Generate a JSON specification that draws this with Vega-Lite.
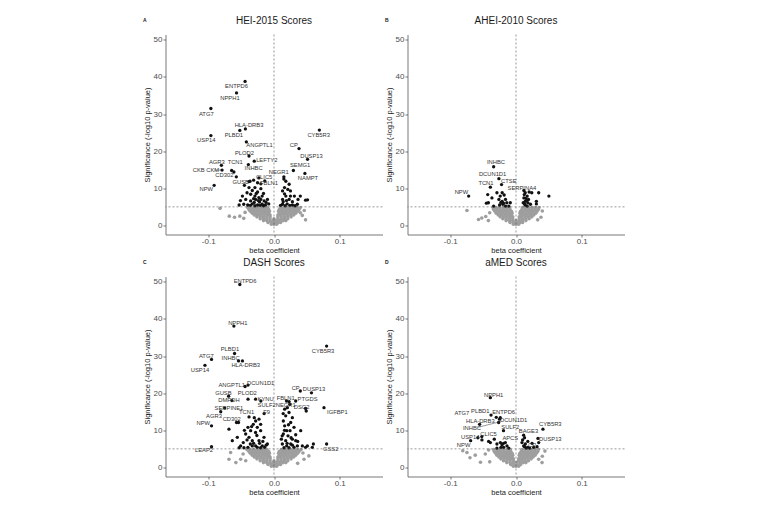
{
"$schema":"https://vega.github.io/schema/vega-lite/v6.json",
"padding":{"left":142.5,"top":15.5,"right":5,"bottom":5},
"background":"white",
"config":{
 "font":"Liberation Sans",
 "view":{"stroke":null},
 "axis":{"grid":false,"domainColor":"#555555","domainWidth":0.8,"tickColor":"#555555","tickWidth":0.8,"tickSize":2.5,"labelPadding":1,"labelColor":"#4d4d4d","labelFontSize":8,"labelOverlap":false,"titleFontSize":7.5,"titleFontWeight":"normal","titleColor":"#1a1a1a","titlePadding":2},
 "axisX":{"labelPadding":0,"titlePadding":1},
 "title":{"fontSize":10,"fontWeight":"normal","color":"#1a1a1a","offset":-8,"baseline":"alphabetic","frame":"group"}
},
"datasets":{
"d":[
{"p":"A","t":"L","x":-0.1992,"y":56.0,"s":"A"},
{"p":"B","t":"L","x":-0.1992,"y":56.0,"s":"B"},
{"p":"C","t":"L","x":-0.1992,"y":56.0,"s":"C"},
{"p":"D","t":"L","x":-0.1992,"y":56.0,"s":"D"},

{"p":"A","t":"g","x":-0.004,"y":0.3},{"p":"A","t":"g","x":0,"y":0.3},{"p":"A","t":"g","x":0.004,"y":0.3},
{"p":"A","t":"g","x":-0.009,"y":0.8},{"p":"A","t":"g","x":-0.004,"y":0.8},{"p":"A","t":"g","x":0.001,"y":0.8},{"p":"A","t":"g","x":0.006,"y":0.8},{"p":"A","t":"g","x":0.010,"y":0.8},
{"p":"A","t":"g","x":-0.016,"y":1.3},{"p":"A","t":"g","x":-0.011,"y":1.3},{"p":"A","t":"g","x":-0.006,"y":1.3},{"p":"A","t":"g","x":-0.001,"y":1.3},{"p":"A","t":"g","x":0.004,"y":1.3},{"p":"A","t":"g","x":0.009,"y":1.3},{"p":"A","t":"g","x":0.014,"y":1.3},{"p":"A","t":"g","x":0.018,"y":1.3},
{"p":"A","t":"g","x":-0.021,"y":1.8},{"p":"A","t":"g","x":-0.016,"y":1.8},{"p":"A","t":"g","x":-0.011,"y":1.8},{"p":"A","t":"g","x":-0.006,"y":1.8},{"p":"A","t":"g","x":0,"y":1.8},{"p":"A","t":"g","x":0.006,"y":1.8},{"p":"A","t":"g","x":0.011,"y":1.8},{"p":"A","t":"g","x":0.016,"y":1.8},{"p":"A","t":"g","x":0.021,"y":1.8},
{"p":"A","t":"g","x":-0.026,"y":2.3},{"p":"A","t":"g","x":-0.021,"y":2.3},{"p":"A","t":"g","x":-0.016,"y":2.3},{"p":"A","t":"g","x":-0.011,"y":2.3},{"p":"A","t":"g","x":-0.006,"y":2.3},{"p":"A","t":"g","x":0.006,"y":2.3},{"p":"A","t":"g","x":0.011,"y":2.3},{"p":"A","t":"g","x":0.016,"y":2.3},{"p":"A","t":"g","x":0.021,"y":2.3},{"p":"A","t":"g","x":0.026,"y":2.3},
{"p":"A","t":"g","x":-0.030,"y":2.8},{"p":"A","t":"g","x":-0.025,"y":2.8},{"p":"A","t":"g","x":-0.020,"y":2.8},{"p":"A","t":"g","x":-0.015,"y":2.8},{"p":"A","t":"g","x":-0.010,"y":2.8},{"p":"A","t":"g","x":-0.006,"y":2.8},{"p":"A","t":"g","x":0.006,"y":2.8},{"p":"A","t":"g","x":0.010,"y":2.8},{"p":"A","t":"g","x":0.015,"y":2.8},{"p":"A","t":"g","x":0.020,"y":2.8},{"p":"A","t":"g","x":0.025,"y":2.8},{"p":"A","t":"g","x":0.030,"y":2.8},
{"p":"A","t":"g","x":-0.033,"y":3.3},{"p":"A","t":"g","x":-0.028,"y":3.3},{"p":"A","t":"g","x":-0.023,"y":3.3},{"p":"A","t":"g","x":-0.018,"y":3.3},{"p":"A","t":"g","x":-0.013,"y":3.3},{"p":"A","t":"g","x":-0.008,"y":3.3},{"p":"A","t":"g","x":0.008,"y":3.3},{"p":"A","t":"g","x":0.013,"y":3.3},{"p":"A","t":"g","x":0.018,"y":3.3},{"p":"A","t":"g","x":0.023,"y":3.3},{"p":"A","t":"g","x":0.028,"y":3.3},{"p":"A","t":"g","x":0.033,"y":3.3},
{"p":"A","t":"g","x":-0.036,"y":3.8},{"p":"A","t":"g","x":-0.031,"y":3.8},{"p":"A","t":"g","x":-0.026,"y":3.8},{"p":"A","t":"g","x":-0.021,"y":3.8},{"p":"A","t":"g","x":-0.016,"y":3.8},{"p":"A","t":"g","x":-0.011,"y":3.8},{"p":"A","t":"g","x":-0.007,"y":3.8},{"p":"A","t":"g","x":0.007,"y":3.8},{"p":"A","t":"g","x":0.011,"y":3.8},{"p":"A","t":"g","x":0.016,"y":3.8},{"p":"A","t":"g","x":0.021,"y":3.8},{"p":"A","t":"g","x":0.026,"y":3.8},{"p":"A","t":"g","x":0.031,"y":3.8},{"p":"A","t":"g","x":0.036,"y":3.8},
{"p":"A","t":"g","x":-0.038,"y":4.3},{"p":"A","t":"g","x":-0.033,"y":4.3},{"p":"A","t":"g","x":-0.028,"y":4.3},{"p":"A","t":"g","x":-0.023,"y":4.3},{"p":"A","t":"g","x":-0.018,"y":4.3},{"p":"A","t":"g","x":-0.013,"y":4.3},{"p":"A","t":"g","x":-0.008,"y":4.3},{"p":"A","t":"g","x":0.008,"y":4.3},{"p":"A","t":"g","x":0.013,"y":4.3},{"p":"A","t":"g","x":0.018,"y":4.3},{"p":"A","t":"g","x":0.023,"y":4.3},{"p":"A","t":"g","x":0.028,"y":4.3},{"p":"A","t":"g","x":0.033,"y":4.3},{"p":"A","t":"g","x":0.038,"y":4.3},
{"p":"A","t":"g","x":-0.040,"y":4.8},{"p":"A","t":"g","x":-0.035,"y":4.8},{"p":"A","t":"g","x":-0.030,"y":4.8},{"p":"A","t":"g","x":-0.025,"y":4.8},{"p":"A","t":"g","x":-0.020,"y":4.8},{"p":"A","t":"g","x":-0.015,"y":4.8},{"p":"A","t":"g","x":-0.010,"y":4.8},{"p":"A","t":"g","x":0.010,"y":4.8},{"p":"A","t":"g","x":0.015,"y":4.8},{"p":"A","t":"g","x":0.020,"y":4.8},{"p":"A","t":"g","x":0.025,"y":4.8},{"p":"A","t":"g","x":0.030,"y":4.8},{"p":"A","t":"g","x":0.035,"y":4.8},{"p":"A","t":"g","x":0.040,"y":4.8},
{"p":"A","t":"g","x":-0.082,"y":4.6},{"p":"A","t":"g","x":-0.068,"y":2.5},{"p":"A","t":"g","x":-0.060,"y":2.2},{"p":"A","t":"g","x":-0.052,"y":2.5},{"p":"A","t":"g","x":-0.046,"y":1.9},{"p":"A","t":"g","x":-0.044,"y":3.5},{"p":"A","t":"g","x":0.043,"y":2.7},{"p":"A","t":"g","x":0.040,"y":3.4},{"p":"A","t":"g","x":0.048,"y":1.5},{"p":"A","t":"g","x":0.046,"y":4.0},

{"p":"B","t":"g","x":-0.004,"y":0.3},{"p":"B","t":"g","x":0,"y":0.3},{"p":"B","t":"g","x":0.004,"y":0.3},
{"p":"B","t":"g","x":-0.009,"y":0.8},{"p":"B","t":"g","x":-0.004,"y":0.8},{"p":"B","t":"g","x":0.001,"y":0.8},{"p":"B","t":"g","x":0.006,"y":0.8},{"p":"B","t":"g","x":0.010,"y":0.8},
{"p":"B","t":"g","x":-0.015,"y":1.3},{"p":"B","t":"g","x":-0.010,"y":1.3},{"p":"B","t":"g","x":-0.005,"y":1.3},{"p":"B","t":"g","x":0,"y":1.3},{"p":"B","t":"g","x":0.005,"y":1.3},{"p":"B","t":"g","x":0.010,"y":1.3},{"p":"B","t":"g","x":0.015,"y":1.3},
{"p":"B","t":"g","x":-0.020,"y":1.8},{"p":"B","t":"g","x":-0.015,"y":1.8},{"p":"B","t":"g","x":-0.010,"y":1.8},{"p":"B","t":"g","x":-0.005,"y":1.8},{"p":"B","t":"g","x":0.005,"y":1.8},{"p":"B","t":"g","x":0.010,"y":1.8},{"p":"B","t":"g","x":0.015,"y":1.8},{"p":"B","t":"g","x":0.020,"y":1.8},
{"p":"B","t":"g","x":-0.024,"y":2.3},{"p":"B","t":"g","x":-0.019,"y":2.3},{"p":"B","t":"g","x":-0.014,"y":2.3},{"p":"B","t":"g","x":-0.009,"y":2.3},{"p":"B","t":"g","x":-0.005,"y":2.3},{"p":"B","t":"g","x":0.005,"y":2.3},{"p":"B","t":"g","x":0.009,"y":2.3},{"p":"B","t":"g","x":0.014,"y":2.3},{"p":"B","t":"g","x":0.019,"y":2.3},{"p":"B","t":"g","x":0.024,"y":2.3},
{"p":"B","t":"g","x":-0.027,"y":2.8},{"p":"B","t":"g","x":-0.022,"y":2.8},{"p":"B","t":"g","x":-0.017,"y":2.8},{"p":"B","t":"g","x":-0.012,"y":2.8},{"p":"B","t":"g","x":-0.007,"y":2.8},{"p":"B","t":"g","x":0.007,"y":2.8},{"p":"B","t":"g","x":0.012,"y":2.8},{"p":"B","t":"g","x":0.017,"y":2.8},{"p":"B","t":"g","x":0.022,"y":2.8},{"p":"B","t":"g","x":0.027,"y":2.8},
{"p":"B","t":"g","x":-0.030,"y":3.3},{"p":"B","t":"g","x":-0.025,"y":3.3},{"p":"B","t":"g","x":-0.020,"y":3.3},{"p":"B","t":"g","x":-0.015,"y":3.3},{"p":"B","t":"g","x":-0.010,"y":3.3},{"p":"B","t":"g","x":-0.006,"y":3.3},{"p":"B","t":"g","x":0.006,"y":3.3},{"p":"B","t":"g","x":0.010,"y":3.3},{"p":"B","t":"g","x":0.015,"y":3.3},{"p":"B","t":"g","x":0.020,"y":3.3},{"p":"B","t":"g","x":0.025,"y":3.3},{"p":"B","t":"g","x":0.030,"y":3.3},
{"p":"B","t":"g","x":-0.032,"y":3.8},{"p":"B","t":"g","x":-0.027,"y":3.8},{"p":"B","t":"g","x":-0.022,"y":3.8},{"p":"B","t":"g","x":-0.017,"y":3.8},{"p":"B","t":"g","x":-0.012,"y":3.8},{"p":"B","t":"g","x":-0.007,"y":3.8},{"p":"B","t":"g","x":0.007,"y":3.8},{"p":"B","t":"g","x":0.012,"y":3.8},{"p":"B","t":"g","x":0.017,"y":3.8},{"p":"B","t":"g","x":0.022,"y":3.8},{"p":"B","t":"g","x":0.027,"y":3.8},{"p":"B","t":"g","x":0.032,"y":3.8},
{"p":"B","t":"g","x":-0.034,"y":4.3},{"p":"B","t":"g","x":-0.029,"y":4.3},{"p":"B","t":"g","x":-0.024,"y":4.3},{"p":"B","t":"g","x":-0.019,"y":4.3},{"p":"B","t":"g","x":-0.014,"y":4.3},{"p":"B","t":"g","x":-0.009,"y":4.3},{"p":"B","t":"g","x":0.009,"y":4.3},{"p":"B","t":"g","x":0.014,"y":4.3},{"p":"B","t":"g","x":0.019,"y":4.3},{"p":"B","t":"g","x":0.024,"y":4.3},{"p":"B","t":"g","x":0.029,"y":4.3},{"p":"B","t":"g","x":0.034,"y":4.3},
{"p":"B","t":"g","x":-0.035,"y":4.8},{"p":"B","t":"g","x":-0.030,"y":4.8},{"p":"B","t":"g","x":-0.025,"y":4.8},{"p":"B","t":"g","x":-0.020,"y":4.8},{"p":"B","t":"g","x":-0.015,"y":4.8},{"p":"B","t":"g","x":-0.010,"y":4.8},{"p":"B","t":"g","x":0.010,"y":4.8},{"p":"B","t":"g","x":0.015,"y":4.8},{"p":"B","t":"g","x":0.020,"y":4.8},{"p":"B","t":"g","x":0.025,"y":4.8},{"p":"B","t":"g","x":0.030,"y":4.8},{"p":"B","t":"g","x":0.035,"y":4.8},
{"p":"B","t":"g","x":-0.0746,"y":4.0},{"p":"B","t":"g","x":-0.057,"y":1.6},{"p":"B","t":"g","x":-0.052,"y":2.0},{"p":"B","t":"g","x":-0.046,"y":2.4},{"p":"B","t":"g","x":-0.042,"y":1.3},{"p":"B","t":"g","x":-0.040,"y":3.4},{"p":"B","t":"g","x":0.038,"y":2.2},{"p":"B","t":"g","x":0.040,"y":3.9},{"p":"B","t":"g","x":0.033,"y":1.5},

{"p":"C","t":"g","x":-0.004,"y":0.3},{"p":"C","t":"g","x":0,"y":0.3},{"p":"C","t":"g","x":0.004,"y":0.3},
{"p":"C","t":"g","x":-0.009,"y":0.8},{"p":"C","t":"g","x":-0.004,"y":0.8},{"p":"C","t":"g","x":0.001,"y":0.8},{"p":"C","t":"g","x":0.006,"y":0.8},{"p":"C","t":"g","x":0.010,"y":0.8},
{"p":"C","t":"g","x":-0.016,"y":1.3},{"p":"C","t":"g","x":-0.011,"y":1.3},{"p":"C","t":"g","x":-0.006,"y":1.3},{"p":"C","t":"g","x":-0.001,"y":1.3},{"p":"C","t":"g","x":0.004,"y":1.3},{"p":"C","t":"g","x":0.009,"y":1.3},{"p":"C","t":"g","x":0.014,"y":1.3},{"p":"C","t":"g","x":0.018,"y":1.3},
{"p":"C","t":"g","x":-0.021,"y":1.8},{"p":"C","t":"g","x":-0.016,"y":1.8},{"p":"C","t":"g","x":-0.011,"y":1.8},{"p":"C","t":"g","x":-0.006,"y":1.8},{"p":"C","t":"g","x":0,"y":1.8},{"p":"C","t":"g","x":0.006,"y":1.8},{"p":"C","t":"g","x":0.011,"y":1.8},{"p":"C","t":"g","x":0.016,"y":1.8},{"p":"C","t":"g","x":0.021,"y":1.8},
{"p":"C","t":"g","x":-0.026,"y":2.3},{"p":"C","t":"g","x":-0.021,"y":2.3},{"p":"C","t":"g","x":-0.016,"y":2.3},{"p":"C","t":"g","x":-0.011,"y":2.3},{"p":"C","t":"g","x":-0.006,"y":2.3},{"p":"C","t":"g","x":0.006,"y":2.3},{"p":"C","t":"g","x":0.011,"y":2.3},{"p":"C","t":"g","x":0.016,"y":2.3},{"p":"C","t":"g","x":0.021,"y":2.3},{"p":"C","t":"g","x":0.026,"y":2.3},
{"p":"C","t":"g","x":-0.030,"y":2.8},{"p":"C","t":"g","x":-0.025,"y":2.8},{"p":"C","t":"g","x":-0.020,"y":2.8},{"p":"C","t":"g","x":-0.015,"y":2.8},{"p":"C","t":"g","x":-0.010,"y":2.8},{"p":"C","t":"g","x":-0.006,"y":2.8},{"p":"C","t":"g","x":0.006,"y":2.8},{"p":"C","t":"g","x":0.010,"y":2.8},{"p":"C","t":"g","x":0.015,"y":2.8},{"p":"C","t":"g","x":0.020,"y":2.8},{"p":"C","t":"g","x":0.025,"y":2.8},{"p":"C","t":"g","x":0.030,"y":2.8},
{"p":"C","t":"g","x":-0.033,"y":3.3},{"p":"C","t":"g","x":-0.028,"y":3.3},{"p":"C","t":"g","x":-0.023,"y":3.3},{"p":"C","t":"g","x":-0.018,"y":3.3},{"p":"C","t":"g","x":-0.013,"y":3.3},{"p":"C","t":"g","x":-0.008,"y":3.3},{"p":"C","t":"g","x":0.008,"y":3.3},{"p":"C","t":"g","x":0.013,"y":3.3},{"p":"C","t":"g","x":0.018,"y":3.3},{"p":"C","t":"g","x":0.023,"y":3.3},{"p":"C","t":"g","x":0.028,"y":3.3},{"p":"C","t":"g","x":0.033,"y":3.3},
{"p":"C","t":"g","x":-0.036,"y":3.8},{"p":"C","t":"g","x":-0.031,"y":3.8},{"p":"C","t":"g","x":-0.026,"y":3.8},{"p":"C","t":"g","x":-0.021,"y":3.8},{"p":"C","t":"g","x":-0.016,"y":3.8},{"p":"C","t":"g","x":-0.011,"y":3.8},{"p":"C","t":"g","x":-0.007,"y":3.8},{"p":"C","t":"g","x":0.007,"y":3.8},{"p":"C","t":"g","x":0.011,"y":3.8},{"p":"C","t":"g","x":0.016,"y":3.8},{"p":"C","t":"g","x":0.021,"y":3.8},{"p":"C","t":"g","x":0.026,"y":3.8},{"p":"C","t":"g","x":0.031,"y":3.8},{"p":"C","t":"g","x":0.036,"y":3.8},
{"p":"C","t":"g","x":-0.038,"y":4.3},{"p":"C","t":"g","x":-0.033,"y":4.3},{"p":"C","t":"g","x":-0.028,"y":4.3},{"p":"C","t":"g","x":-0.023,"y":4.3},{"p":"C","t":"g","x":-0.018,"y":4.3},{"p":"C","t":"g","x":-0.013,"y":4.3},{"p":"C","t":"g","x":-0.008,"y":4.3},{"p":"C","t":"g","x":0.008,"y":4.3},{"p":"C","t":"g","x":0.013,"y":4.3},{"p":"C","t":"g","x":0.018,"y":4.3},{"p":"C","t":"g","x":0.023,"y":4.3},{"p":"C","t":"g","x":0.028,"y":4.3},{"p":"C","t":"g","x":0.033,"y":4.3},{"p":"C","t":"g","x":0.038,"y":4.3},
{"p":"C","t":"g","x":-0.041,"y":4.8},{"p":"C","t":"g","x":-0.036,"y":4.8},{"p":"C","t":"g","x":-0.031,"y":4.8},{"p":"C","t":"g","x":-0.026,"y":4.8},{"p":"C","t":"g","x":-0.021,"y":4.8},{"p":"C","t":"g","x":-0.016,"y":4.8},{"p":"C","t":"g","x":-0.011,"y":4.8},{"p":"C","t":"g","x":0.011,"y":4.8},{"p":"C","t":"g","x":0.016,"y":4.8},{"p":"C","t":"g","x":0.021,"y":4.8},{"p":"C","t":"g","x":0.026,"y":4.8},{"p":"C","t":"g","x":0.031,"y":4.8},{"p":"C","t":"g","x":0.036,"y":4.8},{"p":"C","t":"g","x":0.041,"y":4.8},
{"p":"C","t":"g","x":-0.066,"y":4.0},{"p":"C","t":"g","x":-0.0685,"y":2.2},{"p":"C","t":"g","x":-0.058,"y":1.3},{"p":"C","t":"g","x":-0.0507,"y":2.2},{"p":"C","t":"g","x":-0.043,"y":1.8},{"p":"C","t":"g","x":0.0457,"y":2.2},{"p":"C","t":"g","x":0.036,"y":1.1},{"p":"C","t":"g","x":0.053,"y":3.1},{"p":"C","t":"g","x":0.044,"y":3.9},{"p":"C","t":"g","x":-0.047,"y":3.6},

{"p":"D","t":"g","x":-0.004,"y":0.3},{"p":"D","t":"g","x":0,"y":0.3},{"p":"D","t":"g","x":0.004,"y":0.3},
{"p":"D","t":"g","x":-0.008,"y":0.8},{"p":"D","t":"g","x":-0.003,"y":0.8},{"p":"D","t":"g","x":0.002,"y":0.8},{"p":"D","t":"g","x":0.007,"y":0.8},
{"p":"D","t":"g","x":-0.014,"y":1.3},{"p":"D","t":"g","x":-0.009,"y":1.3},{"p":"D","t":"g","x":-0.004,"y":1.3},{"p":"D","t":"g","x":0.001,"y":1.3},{"p":"D","t":"g","x":0.006,"y":1.3},{"p":"D","t":"g","x":0.011,"y":1.3},{"p":"D","t":"g","x":0.015,"y":1.3},
{"p":"D","t":"g","x":-0.019,"y":1.8},{"p":"D","t":"g","x":-0.014,"y":1.8},{"p":"D","t":"g","x":-0.009,"y":1.8},{"p":"D","t":"g","x":-0.004,"y":1.8},{"p":"D","t":"g","x":0.004,"y":1.8},{"p":"D","t":"g","x":0.009,"y":1.8},{"p":"D","t":"g","x":0.014,"y":1.8},{"p":"D","t":"g","x":0.019,"y":1.8},
{"p":"D","t":"g","x":-0.023,"y":2.3},{"p":"D","t":"g","x":-0.018,"y":2.3},{"p":"D","t":"g","x":-0.013,"y":2.3},{"p":"D","t":"g","x":-0.008,"y":2.3},{"p":"D","t":"g","x":-0.004,"y":2.3},{"p":"D","t":"g","x":0.004,"y":2.3},{"p":"D","t":"g","x":0.008,"y":2.3},{"p":"D","t":"g","x":0.013,"y":2.3},{"p":"D","t":"g","x":0.018,"y":2.3},{"p":"D","t":"g","x":0.023,"y":2.3},
{"p":"D","t":"g","x":-0.026,"y":2.8},{"p":"D","t":"g","x":-0.021,"y":2.8},{"p":"D","t":"g","x":-0.016,"y":2.8},{"p":"D","t":"g","x":-0.011,"y":2.8},{"p":"D","t":"g","x":-0.006,"y":2.8},{"p":"D","t":"g","x":0.006,"y":2.8},{"p":"D","t":"g","x":0.011,"y":2.8},{"p":"D","t":"g","x":0.016,"y":2.8},{"p":"D","t":"g","x":0.021,"y":2.8},{"p":"D","t":"g","x":0.026,"y":2.8},
{"p":"D","t":"g","x":-0.029,"y":3.3},{"p":"D","t":"g","x":-0.024,"y":3.3},{"p":"D","t":"g","x":-0.019,"y":3.3},{"p":"D","t":"g","x":-0.014,"y":3.3},{"p":"D","t":"g","x":-0.009,"y":3.3},{"p":"D","t":"g","x":-0.005,"y":3.3},{"p":"D","t":"g","x":0.005,"y":3.3},{"p":"D","t":"g","x":0.009,"y":3.3},{"p":"D","t":"g","x":0.014,"y":3.3},{"p":"D","t":"g","x":0.019,"y":3.3},{"p":"D","t":"g","x":0.024,"y":3.3},{"p":"D","t":"g","x":0.029,"y":3.3},
{"p":"D","t":"g","x":-0.031,"y":3.8},{"p":"D","t":"g","x":-0.026,"y":3.8},{"p":"D","t":"g","x":-0.021,"y":3.8},{"p":"D","t":"g","x":-0.016,"y":3.8},{"p":"D","t":"g","x":-0.011,"y":3.8},{"p":"D","t":"g","x":-0.006,"y":3.8},{"p":"D","t":"g","x":0.006,"y":3.8},{"p":"D","t":"g","x":0.011,"y":3.8},{"p":"D","t":"g","x":0.016,"y":3.8},{"p":"D","t":"g","x":0.021,"y":3.8},{"p":"D","t":"g","x":0.026,"y":3.8},{"p":"D","t":"g","x":0.031,"y":3.8},
{"p":"D","t":"g","x":-0.033,"y":4.3},{"p":"D","t":"g","x":-0.028,"y":4.3},{"p":"D","t":"g","x":-0.023,"y":4.3},{"p":"D","t":"g","x":-0.018,"y":4.3},{"p":"D","t":"g","x":-0.013,"y":4.3},{"p":"D","t":"g","x":-0.008,"y":4.3},{"p":"D","t":"g","x":0.008,"y":4.3},{"p":"D","t":"g","x":0.013,"y":4.3},{"p":"D","t":"g","x":0.018,"y":4.3},{"p":"D","t":"g","x":0.023,"y":4.3},{"p":"D","t":"g","x":0.028,"y":4.3},{"p":"D","t":"g","x":0.033,"y":4.3},
{"p":"D","t":"g","x":-0.034,"y":4.8},{"p":"D","t":"g","x":-0.029,"y":4.8},{"p":"D","t":"g","x":-0.024,"y":4.8},{"p":"D","t":"g","x":-0.019,"y":4.8},{"p":"D","t":"g","x":-0.014,"y":4.8},{"p":"D","t":"g","x":-0.009,"y":4.8},{"p":"D","t":"g","x":0.009,"y":4.8},{"p":"D","t":"g","x":0.014,"y":4.8},{"p":"D","t":"g","x":0.019,"y":4.8},{"p":"D","t":"g","x":0.024,"y":4.8},{"p":"D","t":"g","x":0.029,"y":4.8},{"p":"D","t":"g","x":0.034,"y":4.8},
{"p":"D","t":"g","x":-0.081,"y":4.5},{"p":"D","t":"g","x":-0.0746,"y":4.0},{"p":"D","t":"g","x":-0.062,"y":3.3},{"p":"D","t":"g","x":-0.054,"y":1.4},{"p":"D","t":"g","x":-0.0467,"y":3.6},{"p":"D","t":"g","x":-0.0416,"y":4.7},{"p":"D","t":"g","x":-0.040,"y":1.5},{"p":"D","t":"g","x":-0.070,"y":2.6},{"p":"D","t":"g","x":0.0345,"y":2.2},{"p":"D","t":"g","x":0.0396,"y":1.3},{"p":"D","t":"g","x":0.040,"y":3.0},{"p":"D","t":"g","x":0.044,"y":4.4},

{"p":"A","t":"b","x":-0.044,"y":38.8},{"p":"A","t":"b","x":-0.057,"y":35.7},{"p":"A","t":"b","x":-0.096,"y":31.5},{"p":"A","t":"b","x":-0.0435,"y":26.0},{"p":"A","t":"b","x":-0.052,"y":25.6},{"p":"A","t":"b","x":-0.096,"y":24.2},{"p":"A","t":"b","x":-0.042,"y":22.5},{"p":"A","t":"b","x":-0.038,"y":18.7},{"p":"A","t":"b","x":-0.030,"y":17.3},{"p":"A","t":"b","x":-0.039,"y":16.4},{"p":"A","t":"b","x":-0.0644,"y":14.8},{"p":"A","t":"b","x":-0.061,"y":14.4},{"p":"A","t":"b","x":-0.080,"y":16.2},{"p":"A","t":"b","x":-0.079,"y":14.9},{"p":"A","t":"b","x":-0.0573,"y":13.1},{"p":"A","t":"b","x":-0.038,"y":11.8},{"p":"A","t":"b","x":-0.023,"y":12.8},{"p":"A","t":"b","x":-0.014,"y":12.0},{"p":"A","t":"b","x":0.015,"y":13.1},{"p":"A","t":"b","x":-0.091,"y":10.8},{"p":"A","t":"b","x":0.069,"y":25.7},{"p":"A","t":"b","x":0.038,"y":20.7},{"p":"A","t":"b","x":0.051,"y":17.8},{"p":"A","t":"b","x":0.0295,"y":14.8},{"p":"A","t":"b","x":0.047,"y":14.0},
{"p":"A","t":"b","x":-0.0365,"y":11.9},{"p":"A","t":"b","x":-0.031,"y":12.2},{"p":"A","t":"b","x":-0.025,"y":11.5},{"p":"A","t":"b","x":-0.020,"y":11.2},{"p":"A","t":"b","x":-0.038,"y":10.2},{"p":"A","t":"b","x":-0.029,"y":10.2},{"p":"A","t":"b","x":-0.020,"y":9.9},{"p":"A","t":"b","x":-0.048,"y":7.9},{"p":"A","t":"b","x":-0.041,"y":8.8},{"p":"A","t":"b","x":-0.0355,"y":8.4},{"p":"A","t":"b","x":-0.029,"y":7.9},{"p":"A","t":"b","x":-0.023,"y":7.5},{"p":"A","t":"b","x":-0.018,"y":7.9},{"p":"A","t":"b","x":-0.051,"y":6.7},{"p":"A","t":"b","x":-0.043,"y":7.0},{"p":"A","t":"b","x":-0.0355,"y":6.6},{"p":"A","t":"b","x":-0.028,"y":7.0},{"p":"A","t":"b","x":-0.020,"y":7.0},{"p":"A","t":"b","x":-0.015,"y":6.6},{"p":"A","t":"b","x":-0.010,"y":7.0},{"p":"A","t":"b","x":-0.053,"y":5.5},{"p":"A","t":"b","x":-0.046,"y":5.7},{"p":"A","t":"b","x":-0.040,"y":5.5},{"p":"A","t":"b","x":-0.033,"y":5.8},{"p":"A","t":"b","x":-0.025,"y":5.5},{"p":"A","t":"b","x":-0.018,"y":5.7},{"p":"A","t":"b","x":-0.013,"y":5.5},{"p":"A","t":"b","x":-0.008,"y":5.8},{"p":"A","t":"b","x":-0.030,"y":6.2},{"p":"A","t":"b","x":-0.022,"y":6.3},{"p":"A","t":"b","x":-0.027,"y":8.6},{"p":"A","t":"b","x":-0.012,"y":6.2},{"p":"A","t":"b","x":-0.033,"y":9.4},{"p":"A","t":"b","x":-0.025,"y":9.0},{"p":"A","t":"b","x":-0.016,"y":8.6},{"p":"A","t":"b","x":-0.045,"y":10.8},{"p":"A","t":"b","x":-0.021,"y":5.4},{"p":"A","t":"b","x":-0.029,"y":5.3},{"p":"A","t":"b","x":-0.036,"y":5.4},{"p":"A","t":"b","x":-0.016,"y":5.3},{"p":"A","t":"b","x":-0.024,"y":6.7},{"p":"A","t":"b","x":-0.031,"y":7.2},
{"p":"A","t":"b","x":0.018,"y":11.9},{"p":"A","t":"b","x":0.023,"y":11.1},{"p":"A","t":"b","x":0.016,"y":10.2},{"p":"A","t":"b","x":0.013,"y":9.3},{"p":"A","t":"b","x":0.025,"y":9.3},{"p":"A","t":"b","x":0.031,"y":7.9},{"p":"A","t":"b","x":0.018,"y":7.9},{"p":"A","t":"b","x":0.013,"y":7.0},{"p":"A","t":"b","x":0.023,"y":7.0},{"p":"A","t":"b","x":0.028,"y":6.4},{"p":"A","t":"b","x":0.0365,"y":7.0},{"p":"A","t":"b","x":0.013,"y":5.7},{"p":"A","t":"b","x":0.020,"y":5.8},{"p":"A","t":"b","x":0.028,"y":5.5},{"p":"A","t":"b","x":0.0355,"y":5.7},{"p":"A","t":"b","x":0.048,"y":6.8},{"p":"A","t":"b","x":0.051,"y":6.9},{"p":"A","t":"b","x":0.040,"y":7.9},{"p":"A","t":"b","x":0.016,"y":8.5},{"p":"A","t":"b","x":0.021,"y":9.7},{"p":"A","t":"b","x":0.014,"y":6.4},{"p":"A","t":"b","x":0.025,"y":7.9},{"p":"A","t":"b","x":0.019,"y":6.7},{"p":"A","t":"b","x":0.010,"y":5.4},{"p":"A","t":"b","x":0.017,"y":5.3},{"p":"A","t":"b","x":0.024,"y":5.4},{"p":"A","t":"b","x":0.032,"y":5.3},{"p":"A","t":"b","x":0.015,"y":12.5},

{"p":"B","t":"b","x":-0.034,"y":15.8},{"p":"B","t":"b","x":-0.026,"y":12.6},{"p":"B","t":"b","x":-0.039,"y":10.3},{"p":"B","t":"b","x":-0.022,"y":11.0},{"p":"B","t":"b","x":0.012,"y":9.4},{"p":"B","t":"b","x":-0.072,"y":7.9},
{"p":"B","t":"b","x":-0.043,"y":8.3},{"p":"B","t":"b","x":-0.042,"y":6.1},{"p":"B","t":"b","x":-0.0366,"y":7.4},{"p":"B","t":"b","x":-0.029,"y":8.8},{"p":"B","t":"b","x":-0.024,"y":7.9},{"p":"B","t":"b","x":-0.021,"y":8.8},{"p":"B","t":"b","x":-0.018,"y":8.2},{"p":"B","t":"b","x":-0.026,"y":7.0},{"p":"B","t":"b","x":-0.021,"y":6.5},{"p":"B","t":"b","x":-0.016,"y":7.0},{"p":"B","t":"b","x":-0.014,"y":6.1},{"p":"B","t":"b","x":-0.020,"y":5.7},{"p":"B","t":"b","x":-0.0087,"y":6.1},{"p":"B","t":"b","x":-0.025,"y":5.5},{"p":"B","t":"b","x":-0.016,"y":5.2},{"p":"B","t":"b","x":-0.034,"y":5.2},{"p":"B","t":"b","x":-0.011,"y":5.2},{"p":"B","t":"b","x":-0.045,"y":6.0},{"p":"B","t":"b","x":-0.019,"y":6.0},{"p":"B","t":"b","x":-0.023,"y":6.2},
{"p":"B","t":"b","x":0.014,"y":8.8},{"p":"B","t":"b","x":0.017,"y":7.9},{"p":"B","t":"b","x":0.012,"y":7.4},{"p":"B","t":"b","x":0.019,"y":7.0},{"p":"B","t":"b","x":0.014,"y":6.5},{"p":"B","t":"b","x":0.018,"y":6.1},{"p":"B","t":"b","x":0.014,"y":5.5},{"p":"B","t":"b","x":0.022,"y":5.7},{"p":"B","t":"b","x":0.024,"y":8.8},{"p":"B","t":"b","x":0.0345,"y":8.8},{"p":"B","t":"b","x":0.031,"y":6.5},{"p":"B","t":"b","x":0.031,"y":5.8},{"p":"B","t":"b","x":0.050,"y":7.9},{"p":"B","t":"b","x":0.017,"y":5.2},{"p":"B","t":"b","x":0.0126,"y":8.3},{"p":"B","t":"b","x":0.011,"y":6.1},{"p":"B","t":"b","x":0.016,"y":6.7},{"p":"B","t":"b","x":0.013,"y":5.8},{"p":"B","t":"b","x":0.015,"y":7.3},{"p":"B","t":"b","x":0.020,"y":9.0},

{"p":"C","t":"b","x":-0.052,"y":49.3},{"p":"C","t":"b","x":-0.061,"y":38.1},{"p":"C","t":"b","x":-0.060,"y":30.7},{"p":"C","t":"b","x":-0.054,"y":28.7},{"p":"C","t":"b","x":-0.048,"y":28.7},{"p":"C","t":"b","x":-0.095,"y":29.1},{"p":"C","t":"b","x":-0.105,"y":27.5},{"p":"C","t":"b","x":0.080,"y":32.7},{"p":"C","t":"b","x":-0.044,"y":21.8},{"p":"C","t":"b","x":-0.0395,"y":22.2},{"p":"C","t":"b","x":-0.069,"y":19.2},{"p":"C","t":"b","x":-0.0395,"y":18.4},{"p":"C","t":"b","x":-0.064,"y":18.0},{"p":"C","t":"b","x":-0.075,"y":16.0},{"p":"C","t":"b","x":-0.081,"y":15.0},{"p":"C","t":"b","x":-0.095,"y":11.2},{"p":"C","t":"b","x":-0.057,"y":12.1},{"p":"C","t":"b","x":-0.054,"y":12.1},{"p":"C","t":"b","x":-0.038,"y":13.6},{"p":"C","t":"b","x":-0.028,"y":18.4},{"p":"C","t":"b","x":-0.020,"y":17.9},{"p":"C","t":"b","x":-0.015,"y":14.5},{"p":"C","t":"b","x":0.023,"y":17.7},{"p":"C","t":"b","x":0.019,"y":17.9},{"p":"C","t":"b","x":0.040,"y":20.6},{"p":"C","t":"b","x":0.057,"y":20.1},{"p":"C","t":"b","x":0.033,"y":17.9},{"p":"C","t":"b","x":0.048,"y":15.9},{"p":"C","t":"b","x":0.049,"y":15.2},{"p":"C","t":"b","x":0.076,"y":16.1},{"p":"C","t":"b","x":-0.095,"y":5.6},{"p":"C","t":"b","x":0.080,"y":6.3},
{"p":"C","t":"b","x":-0.0685,"y":10.3},{"p":"C","t":"b","x":-0.0634,"y":7.2},{"p":"C","t":"b","x":-0.0558,"y":8.1},{"p":"C","t":"b","x":-0.0507,"y":5.8},{"p":"C","t":"b","x":-0.0467,"y":6.7},{"p":"C","t":"b","x":-0.0431,"y":9.0},{"p":"C","t":"b","x":-0.0396,"y":10.8},{"p":"C","t":"b","x":-0.0355,"y":9.9},{"p":"C","t":"b","x":-0.0315,"y":11.6},{"p":"C","t":"b","x":-0.0279,"y":12.5},{"p":"C","t":"b","x":-0.0254,"y":10.8},{"p":"C","t":"b","x":-0.0203,"y":9.9},{"p":"C","t":"b","x":-0.038,"y":8.1},{"p":"C","t":"b","x":-0.033,"y":7.2},{"p":"C","t":"b","x":-0.0279,"y":5.8},{"p":"C","t":"b","x":-0.0228,"y":7.2},{"p":"C","t":"b","x":-0.0178,"y":5.8},{"p":"C","t":"b","x":-0.0152,"y":8.1},{"p":"C","t":"b","x":-0.0457,"y":5.3},{"p":"C","t":"b","x":-0.0396,"y":5.4},{"p":"C","t":"b","x":-0.033,"y":5.8},{"p":"C","t":"b","x":-0.0254,"y":5.4},{"p":"C","t":"b","x":-0.0203,"y":5.3},{"p":"C","t":"b","x":-0.0142,"y":5.4},{"p":"C","t":"b","x":-0.0101,"y":6.3},{"p":"C","t":"b","x":-0.053,"y":5.3},{"p":"C","t":"b","x":-0.030,"y":13.4},{"p":"C","t":"b","x":-0.0228,"y":13.0},{"p":"C","t":"b","x":-0.0203,"y":11.6},{"p":"C","t":"b","x":-0.026,"y":8.6},{"p":"C","t":"b","x":-0.031,"y":6.5},{"p":"C","t":"b","x":-0.036,"y":6.3},{"p":"C","t":"b","x":-0.041,"y":7.4},{"p":"C","t":"b","x":-0.022,"y":6.5},{"p":"C","t":"b","x":-0.017,"y":7.0},{"p":"C","t":"b","x":-0.012,"y":6.0},{"p":"C","t":"b","x":-0.028,"y":9.4},{"p":"C","t":"b","x":-0.034,"y":11.0},{"p":"C","t":"b","x":-0.045,"y":10.0},
{"p":"C","t":"b","x":0.0162,"y":15.7},{"p":"C","t":"b","x":0.0203,"y":16.1},{"p":"C","t":"b","x":0.0228,"y":14.8},{"p":"C","t":"b","x":0.0178,"y":13.9},{"p":"C","t":"b","x":0.0142,"y":12.5},{"p":"C","t":"b","x":0.0162,"y":11.2},{"p":"C","t":"b","x":0.0193,"y":9.9},{"p":"C","t":"b","x":0.0142,"y":9.0},{"p":"C","t":"b","x":0.0213,"y":8.5},{"p":"C","t":"b","x":0.0178,"y":7.2},{"p":"C","t":"b","x":0.0127,"y":6.3},{"p":"C","t":"b","x":0.0193,"y":5.8},{"p":"C","t":"b","x":0.0254,"y":6.3},{"p":"C","t":"b","x":0.0304,"y":5.4},{"p":"C","t":"b","x":0.0228,"y":5.3},{"p":"C","t":"b","x":0.0152,"y":5.3},{"p":"C","t":"b","x":0.0279,"y":7.6},{"p":"C","t":"b","x":0.033,"y":7.2},{"p":"C","t":"b","x":0.0355,"y":5.8},{"p":"C","t":"b","x":0.0431,"y":5.8},{"p":"C","t":"b","x":0.048,"y":5.4},{"p":"C","t":"b","x":0.0507,"y":5.8},{"p":"C","t":"b","x":0.0583,"y":5.4},{"p":"C","t":"b","x":0.0599,"y":6.3},{"p":"C","t":"b","x":0.0406,"y":9.9},{"p":"C","t":"b","x":0.0304,"y":10.8},{"p":"C","t":"b","x":0.0254,"y":12.1},{"p":"C","t":"b","x":0.0279,"y":13.4},{"p":"C","t":"b","x":0.0244,"y":9.9},{"p":"C","t":"b","x":0.0112,"y":7.6},{"p":"C","t":"b","x":0.033,"y":8.8},{"p":"C","t":"b","x":0.0125,"y":8.5},{"p":"C","t":"b","x":0.016,"y":10.0},{"p":"C","t":"b","x":0.022,"y":11.5},{"p":"C","t":"b","x":0.026,"y":8.0},{"p":"C","t":"b","x":0.020,"y":6.5},{"p":"C","t":"b","x":0.028,"y":6.0},{"p":"C","t":"b","x":0.036,"y":7.0},{"p":"C","t":"b","x":0.014,"y":14.5},{"p":"C","t":"b","x":0.024,"y":17.0},

{"p":"D","t":"b","x":-0.039,"y":18.8},{"p":"D","t":"b","x":-0.038,"y":14.1},{"p":"D","t":"b","x":-0.030,"y":13.5},{"p":"D","t":"b","x":-0.025,"y":13.0},{"p":"D","t":"b","x":-0.0264,"y":12.1},{"p":"D","t":"b","x":-0.0239,"y":13.4},{"p":"D","t":"b","x":-0.0553,"y":11.6},{"p":"D","t":"b","x":-0.019,"y":9.9},{"p":"D","t":"b","x":0.0116,"y":8.7},{"p":"D","t":"b","x":0.041,"y":10.3},{"p":"D","t":"b","x":0.0334,"y":7.8},{"p":"D","t":"b","x":-0.052,"y":8.3},{"p":"D","t":"b","x":-0.058,"y":8.0},{"p":"D","t":"b","x":-0.069,"y":7.2},{"p":"D","t":"b","x":-0.019,"y":6.5},{"p":"D","t":"b","x":0.013,"y":5.6},
{"p":"D","t":"b","x":-0.0518,"y":7.4},{"p":"D","t":"b","x":-0.0416,"y":7.0},{"p":"D","t":"b","x":-0.039,"y":6.7},{"p":"D","t":"b","x":-0.033,"y":7.6},{"p":"D","t":"b","x":-0.029,"y":6.3},{"p":"D","t":"b","x":-0.0238,"y":6.7},{"p":"D","t":"b","x":-0.0213,"y":6.1},{"p":"D","t":"b","x":-0.0188,"y":5.4},{"p":"D","t":"b","x":-0.0137,"y":5.8},{"p":"D","t":"b","x":-0.0162,"y":6.7},{"p":"D","t":"b","x":-0.0228,"y":5.4},{"p":"D","t":"b","x":-0.029,"y":5.2},{"p":"D","t":"b","x":-0.011,"y":5.2},
{"p":"D","t":"b","x":0.0091,"y":6.7},{"p":"D","t":"b","x":0.0117,"y":5.8},{"p":"D","t":"b","x":0.0142,"y":6.3},{"p":"D","t":"b","x":0.0157,"y":5.2},{"p":"D","t":"b","x":0.0178,"y":5.4},{"p":"D","t":"b","x":0.0244,"y":6.5},{"p":"D","t":"b","x":0.0269,"y":5.4},{"p":"D","t":"b","x":0.032,"y":5.6},{"p":"D","t":"b","x":0.0345,"y":6.7},{"p":"D","t":"b","x":0.0208,"y":5.2},{"p":"D","t":"b","x":0.010,"y":7.4},{"p":"D","t":"b","x":0.013,"y":8.0},{"p":"D","t":"b","x":0.018,"y":7.0},

{"p":"A","t":"l","x":-0.057,"y":37.5,"s":"ENTPD6"},{"p":"A","t":"l","x":-0.067,"y":34.4,"s":"NPPH1"},{"p":"A","t":"l","x":-0.103,"y":30.1,"s":"ATG7"},{"p":"A","t":"l","x":-0.038,"y":27.0,"s":"HLA-DRB3"},{"p":"A","t":"l","x":-0.061,"y":24.3,"s":"PLBD1"},{"p":"A","t":"l","x":-0.103,"y":22.9,"s":"USP14"},{"p":"A","t":"l","x":-0.022,"y":21.6,"s":"ANGPTL1"},{"p":"A","t":"l","x":-0.045,"y":19.6,"s":"PLOD2"},{"p":"A","t":"l","x":-0.011,"y":17.6,"s":"LEFTY2"},{"p":"A","t":"l","x":-0.031,"y":15.5,"s":"INHBC"},{"p":"A","t":"l","x":-0.059,"y":17.0,"s":"TCN1"},{"p":"A","t":"l","x":-0.087,"y":17.0,"s":"AGR3"},{"p":"A","t":"l","x":-0.1035,"y":14.9,"s":"CKB CKM"},{"p":"A","t":"l","x":-0.0755,"y":13.6,"s":"CD302"},{"p":"A","t":"l","x":-0.0507,"y":11.6,"s":"GUSB"},{"p":"A","t":"l","x":-0.015,"y":13.1,"s":"CLIC5"},{"p":"A","t":"l","x":-0.0076,"y":11.3,"s":"FBLN1"},{"p":"A","t":"l","x":0.0072,"y":14.4,"s":"NEGR1"},{"p":"A","t":"l","x":-0.103,"y":9.9,"s":"NPW"},{"p":"A","t":"l","x":0.068,"y":24.3,"s":"CYB5R3"},{"p":"A","t":"l","x":0.030,"y":21.8,"s":"CP"},{"p":"A","t":"l","x":0.057,"y":18.6,"s":"DUSP13"},{"p":"A","t":"l","x":0.0396,"y":16.2,"s":"SEMG1"},{"p":"A","t":"l","x":0.0517,"y":12.8,"s":"NAMPT"},
{"p":"A","t":"k","x":-0.0905,"y":14.9,"x2":-0.080,"y2":14.9},

{"p":"B","t":"l","x":-0.0305,"y":17.1,"s":"INHBC"},{"p":"B","t":"l","x":-0.0356,"y":13.9,"s":"DCUN1D1"},{"p":"B","t":"l","x":-0.0457,"y":11.3,"s":"TCN1"},{"p":"B","t":"l","x":-0.011,"y":11.9,"s":"CTSE"},{"p":"B","t":"l","x":0.009,"y":10.0,"s":"SERPINA4"},{"p":"B","t":"l","x":-0.083,"y":9.0,"s":"NPW"},

{"p":"C","t":"l","x":-0.044,"y":50.2,"s":"ENTPD6"},{"p":"C","t":"l","x":-0.055,"y":39.0,"s":"NPPH1"},{"p":"C","t":"l","x":-0.067,"y":31.8,"s":"PLBD1"},{"p":"C","t":"l","x":-0.066,"y":29.6,"s":"INHBC"},{"p":"C","t":"l","x":-0.043,"y":27.5,"s":"HLA-DRB3"},{"p":"C","t":"l","x":-0.103,"y":30.1,"s":"ATG7"},{"p":"C","t":"l","x":-0.1126,"y":26.2,"s":"USP14"},{"p":"C","t":"l","x":0.0746,"y":31.5,"s":"CYB5R3"},{"p":"C","t":"l","x":-0.0644,"y":22.1,"s":"ANGPTL1"},{"p":"C","t":"l","x":-0.0203,"y":22.8,"s":"DCUN1D1"},{"p":"C","t":"l","x":-0.077,"y":20.0,"s":"GUSB"},{"p":"C","t":"l","x":-0.0406,"y":20.0,"s":"PLOD2"},{"p":"C","t":"l","x":-0.0685,"y":18.1,"s":"DMPDH"},{"p":"C","t":"l","x":-0.0685,"y":16.1,"s":"SERPINE1"},{"p":"C","t":"l","x":-0.0913,"y":13.9,"s":"AGR3"},{"p":"C","t":"l","x":-0.1076,"y":11.9,"s":"NPW"},{"p":"C","t":"l","x":-0.0644,"y":13.0,"s":"CD302"},{"p":"C","t":"l","x":-0.0416,"y":15.0,"s":"TCN1"},{"p":"C","t":"l","x":-0.0127,"y":18.5,"s":"KYNU"},{"p":"C","t":"l","x":-0.0112,"y":16.8,"s":"SULF2"},{"p":"C","t":"l","x":-0.0112,"y":14.8,"s":"F9"},{"p":"C","t":"l","x":0.0178,"y":16.8,"s":"NEGR1"},{"p":"C","t":"l","x":0.0178,"y":18.8,"s":"FBLN1"},{"p":"C","t":"l","x":0.033,"y":21.3,"s":"CP"},{"p":"C","t":"l","x":0.0609,"y":21.0,"s":"DUSP13"},{"p":"C","t":"l","x":0.051,"y":18.4,"s":"PTGDS"},{"p":"C","t":"l","x":0.042,"y":16.3,"s":"DSG2"},{"p":"C","t":"l","x":0.0964,"y":15.0,"s":"IGFBP1"},{"p":"C","t":"l","x":-0.1065,"y":4.7,"s":"LEAP2"},{"p":"C","t":"l","x":0.0862,"y":4.9,"s":"GSS2"},

{"p":"D","t":"l","x":-0.034,"y":19.5,"s":"NPPH1"},{"p":"D","t":"l","x":-0.0822,"y":14.6,"s":"ATG7"},{"p":"D","t":"l","x":-0.0543,"y":15.2,"s":"PLBD1"},{"p":"D","t":"l","x":-0.0188,"y":14.8,"s":"ENTPD6"},{"p":"D","t":"l","x":-0.0543,"y":12.6,"s":"HLA-DRB3"},{"p":"D","t":"l","x":-0.0036,"y":12.7,"s":"DCUN1D1"},{"p":"D","t":"l","x":-0.067,"y":10.5,"s":"INHBC"},{"p":"D","t":"l","x":-0.0087,"y":11.0,"s":"SULF2"},{"p":"D","t":"l","x":0.019,"y":9.9,"s":"BAGE3"},{"p":"D","t":"l","x":0.0522,"y":11.7,"s":"CYB5R3"},{"p":"D","t":"l","x":0.0522,"y":7.6,"s":"DUSP13"},{"p":"D","t":"l","x":-0.0417,"y":9.0,"s":"CLIC5"},{"p":"D","t":"l","x":-0.0696,"y":8.1,"s":"USP14"},{"p":"D","t":"l","x":-0.0797,"y":6.1,"s":"NPW"},{"p":"D","t":"l","x":-0.0087,"y":7.8,"s":"APCS"},{"p":"D","t":"l","x":0.0243,"y":6.0,"s":"CP"},
{"p":"D","t":"k","x":-0.058,"y":10.8,"x2":-0.0245,"y2":12.3}
]},
"data":{"name":"d"},
"columns":2,
"spacing":{"row":42,"column":25},
"bounds":"flush",
"concat":[
{"title":{"text":"HEI-2015 Scores"},"width":217,"height":200,"transform":[{"filter":"datum.p=='A'"}],"layer":[
{"transform":[{"filter":"datum.t=='g'||datum.t=='b'"}],"mark":{"type":"point","filled":true,"opacity":1,"strokeWidth":0},"encoding":{"x":{"field":"x","type":"quantitative","scale":{"domain":[-0.165,0.165],"nice":false,"zero":false},"title":"beta coefficient","axis":{"values":[-0.1,0,0.1],"format":".1f","labelExpr":"replace(datum.label,'−','-')","labelOverlap":false}},"y":{"field":"y","type":"quantitative","scale":{"domain":[-2.45,51.45],"nice":false,"zero":false},"title":"Significance (-log10 p-value)","axis":{"values":[0,10,20,30,40,50],"labelOverlap":false,"tickCount":6}},"color":{"field":"t","type":"nominal","scale":{"domain":["g","b"],"range":["#9e9e9e","#111111"]},"legend":null},"size":{"field":"t","type":"nominal","scale":{"domain":["g","b"],"range":[13,11]},"legend":null}}},
{"transform":[{"filter":"datum.t=='L'"}],"mark":{"type":"rule","strokeDash":[2,2],"color":"#555","strokeWidth":0.6},"encoding":{"x":{"datum":0,"type":"quantitative","scale":{"domain":[-0.165,0.165],"nice":false,"zero":false},"title":"beta coefficient","axis":{"values":[-0.1,0,0.1],"format":".1f","labelExpr":"replace(datum.label,'−','-')","labelOverlap":false}}}},
{"transform":[{"filter":"datum.t=='L'"}],"mark":{"type":"rule","strokeDash":[2,2],"color":"#555","strokeWidth":0.6},"encoding":{"y":{"datum":5,"type":"quantitative","scale":{"domain":[-2.45,51.45],"nice":false,"zero":false},"title":"Significance (-log10 p-value)","axis":{"values":[0,10,20,30,40,50],"labelOverlap":false,"tickCount":6}}}},
{"transform":[{"filter":"datum.t=='k'"}],"mark":{"type":"rule","color":"#333","strokeWidth":0.5},"encoding":{"x":{"field":"x","type":"quantitative","scale":{"domain":[-0.165,0.165],"nice":false,"zero":false},"title":"beta coefficient","axis":{"values":[-0.1,0,0.1],"format":".1f","labelExpr":"replace(datum.label,'−','-')","labelOverlap":false}},"y":{"field":"y","type":"quantitative","scale":{"domain":[-2.45,51.45],"nice":false,"zero":false},"title":"Significance (-log10 p-value)","axis":{"values":[0,10,20,30,40,50],"labelOverlap":false,"tickCount":6}},"x2":{"field":"x2"},"y2":{"field":"y2"}}},
{"transform":[{"filter":"datum.t=='l'"}],"mark":{"type":"text","fontSize":5.8,"color":"#333"},"encoding":{"x":{"field":"x","type":"quantitative","scale":{"domain":[-0.165,0.165],"nice":false,"zero":false},"title":"beta coefficient","axis":{"values":[-0.1,0,0.1],"format":".1f","labelExpr":"replace(datum.label,'−','-')","labelOverlap":false}},"y":{"field":"y","type":"quantitative","scale":{"domain":[-2.45,51.45],"nice":false,"zero":false},"title":"Significance (-log10 p-value)","axis":{"values":[0,10,20,30,40,50],"labelOverlap":false,"tickCount":6}},"text":{"field":"s"}}},
{"transform":[{"filter":"datum.t=='L'"}],"mark":{"type":"text","fontSize":5,"fontWeight":"bold","align":"left","baseline":"top","color":"#222"},"encoding":{"x":{"field":"x","type":"quantitative","scale":{"domain":[-0.165,0.165],"nice":false,"zero":false},"title":"beta coefficient","axis":{"values":[-0.1,0,0.1],"format":".1f","labelExpr":"replace(datum.label,'−','-')","labelOverlap":false}},"y":{"field":"y","type":"quantitative","scale":{"domain":[-2.45,51.45],"nice":false,"zero":false},"title":"Significance (-log10 p-value)","axis":{"values":[0,10,20,30,40,50],"labelOverlap":false,"tickCount":6}},"text":{"field":"s"}}}
]},
{"title":{"text":"AHEI-2010 Scores"},"width":217,"height":200,"transform":[{"filter":"datum.p=='B'"}],"layer":[
{"transform":[{"filter":"datum.t=='g'||datum.t=='b'"}],"mark":{"type":"point","filled":true,"opacity":1,"strokeWidth":0},"encoding":{"x":{"field":"x","type":"quantitative","scale":{"domain":[-0.165,0.165],"nice":false,"zero":false},"title":"beta coefficient","axis":{"values":[-0.1,0,0.1],"format":".1f","labelExpr":"replace(datum.label,'−','-')","labelOverlap":false}},"y":{"field":"y","type":"quantitative","scale":{"domain":[-2.45,51.45],"nice":false,"zero":false},"title":"Significance (-log10 p-value)","axis":{"values":[0,10,20,30,40,50],"labelOverlap":false,"tickCount":6}},"color":{"field":"t","type":"nominal","scale":{"domain":["g","b"],"range":["#9e9e9e","#111111"]},"legend":null},"size":{"field":"t","type":"nominal","scale":{"domain":["g","b"],"range":[13,11]},"legend":null}}},
{"transform":[{"filter":"datum.t=='L'"}],"mark":{"type":"rule","strokeDash":[2,2],"color":"#555","strokeWidth":0.6},"encoding":{"x":{"datum":0,"type":"quantitative","scale":{"domain":[-0.165,0.165],"nice":false,"zero":false},"title":"beta coefficient","axis":{"values":[-0.1,0,0.1],"format":".1f","labelExpr":"replace(datum.label,'−','-')","labelOverlap":false}}}},
{"transform":[{"filter":"datum.t=='L'"}],"mark":{"type":"rule","strokeDash":[2,2],"color":"#555","strokeWidth":0.6},"encoding":{"y":{"datum":5,"type":"quantitative","scale":{"domain":[-2.45,51.45],"nice":false,"zero":false},"title":"Significance (-log10 p-value)","axis":{"values":[0,10,20,30,40,50],"labelOverlap":false,"tickCount":6}}}},
{"transform":[{"filter":"datum.t=='k'"}],"mark":{"type":"rule","color":"#333","strokeWidth":0.5},"encoding":{"x":{"field":"x","type":"quantitative","scale":{"domain":[-0.165,0.165],"nice":false,"zero":false},"title":"beta coefficient","axis":{"values":[-0.1,0,0.1],"format":".1f","labelExpr":"replace(datum.label,'−','-')","labelOverlap":false}},"y":{"field":"y","type":"quantitative","scale":{"domain":[-2.45,51.45],"nice":false,"zero":false},"title":"Significance (-log10 p-value)","axis":{"values":[0,10,20,30,40,50],"labelOverlap":false,"tickCount":6}},"x2":{"field":"x2"},"y2":{"field":"y2"}}},
{"transform":[{"filter":"datum.t=='l'"}],"mark":{"type":"text","fontSize":5.8,"color":"#333"},"encoding":{"x":{"field":"x","type":"quantitative","scale":{"domain":[-0.165,0.165],"nice":false,"zero":false},"title":"beta coefficient","axis":{"values":[-0.1,0,0.1],"format":".1f","labelExpr":"replace(datum.label,'−','-')","labelOverlap":false}},"y":{"field":"y","type":"quantitative","scale":{"domain":[-2.45,51.45],"nice":false,"zero":false},"title":"Significance (-log10 p-value)","axis":{"values":[0,10,20,30,40,50],"labelOverlap":false,"tickCount":6}},"text":{"field":"s"}}},
{"transform":[{"filter":"datum.t=='L'"}],"mark":{"type":"text","fontSize":5,"fontWeight":"bold","align":"left","baseline":"top","color":"#222"},"encoding":{"x":{"field":"x","type":"quantitative","scale":{"domain":[-0.165,0.165],"nice":false,"zero":false},"title":"beta coefficient","axis":{"values":[-0.1,0,0.1],"format":".1f","labelExpr":"replace(datum.label,'−','-')","labelOverlap":false}},"y":{"field":"y","type":"quantitative","scale":{"domain":[-2.45,51.45],"nice":false,"zero":false},"title":"Significance (-log10 p-value)","axis":{"values":[0,10,20,30,40,50],"labelOverlap":false,"tickCount":6}},"text":{"field":"s"}}}
]},
{"title":{"text":"DASH Scores"},"width":217,"height":200,"transform":[{"filter":"datum.p=='C'"}],"layer":[
{"transform":[{"filter":"datum.t=='g'||datum.t=='b'"}],"mark":{"type":"point","filled":true,"opacity":1,"strokeWidth":0},"encoding":{"x":{"field":"x","type":"quantitative","scale":{"domain":[-0.165,0.165],"nice":false,"zero":false},"title":"beta coefficient","axis":{"values":[-0.1,0,0.1],"format":".1f","labelExpr":"replace(datum.label,'−','-')","labelOverlap":false}},"y":{"field":"y","type":"quantitative","scale":{"domain":[-2.45,51.45],"nice":false,"zero":false},"title":"Significance (-log10 p-value)","axis":{"values":[0,10,20,30,40,50],"labelOverlap":false,"tickCount":6}},"color":{"field":"t","type":"nominal","scale":{"domain":["g","b"],"range":["#9e9e9e","#111111"]},"legend":null},"size":{"field":"t","type":"nominal","scale":{"domain":["g","b"],"range":[13,11]},"legend":null}}},
{"transform":[{"filter":"datum.t=='L'"}],"mark":{"type":"rule","strokeDash":[2,2],"color":"#555","strokeWidth":0.6},"encoding":{"x":{"datum":0,"type":"quantitative","scale":{"domain":[-0.165,0.165],"nice":false,"zero":false},"title":"beta coefficient","axis":{"values":[-0.1,0,0.1],"format":".1f","labelExpr":"replace(datum.label,'−','-')","labelOverlap":false}}}},
{"transform":[{"filter":"datum.t=='L'"}],"mark":{"type":"rule","strokeDash":[2,2],"color":"#555","strokeWidth":0.6},"encoding":{"y":{"datum":5,"type":"quantitative","scale":{"domain":[-2.45,51.45],"nice":false,"zero":false},"title":"Significance (-log10 p-value)","axis":{"values":[0,10,20,30,40,50],"labelOverlap":false,"tickCount":6}}}},
{"transform":[{"filter":"datum.t=='k'"}],"mark":{"type":"rule","color":"#333","strokeWidth":0.5},"encoding":{"x":{"field":"x","type":"quantitative","scale":{"domain":[-0.165,0.165],"nice":false,"zero":false},"title":"beta coefficient","axis":{"values":[-0.1,0,0.1],"format":".1f","labelExpr":"replace(datum.label,'−','-')","labelOverlap":false}},"y":{"field":"y","type":"quantitative","scale":{"domain":[-2.45,51.45],"nice":false,"zero":false},"title":"Significance (-log10 p-value)","axis":{"values":[0,10,20,30,40,50],"labelOverlap":false,"tickCount":6}},"x2":{"field":"x2"},"y2":{"field":"y2"}}},
{"transform":[{"filter":"datum.t=='l'"}],"mark":{"type":"text","fontSize":5.8,"color":"#333"},"encoding":{"x":{"field":"x","type":"quantitative","scale":{"domain":[-0.165,0.165],"nice":false,"zero":false},"title":"beta coefficient","axis":{"values":[-0.1,0,0.1],"format":".1f","labelExpr":"replace(datum.label,'−','-')","labelOverlap":false}},"y":{"field":"y","type":"quantitative","scale":{"domain":[-2.45,51.45],"nice":false,"zero":false},"title":"Significance (-log10 p-value)","axis":{"values":[0,10,20,30,40,50],"labelOverlap":false,"tickCount":6}},"text":{"field":"s"}}},
{"transform":[{"filter":"datum.t=='L'"}],"mark":{"type":"text","fontSize":5,"fontWeight":"bold","align":"left","baseline":"top","color":"#222"},"encoding":{"x":{"field":"x","type":"quantitative","scale":{"domain":[-0.165,0.165],"nice":false,"zero":false},"title":"beta coefficient","axis":{"values":[-0.1,0,0.1],"format":".1f","labelExpr":"replace(datum.label,'−','-')","labelOverlap":false}},"y":{"field":"y","type":"quantitative","scale":{"domain":[-2.45,51.45],"nice":false,"zero":false},"title":"Significance (-log10 p-value)","axis":{"values":[0,10,20,30,40,50],"labelOverlap":false,"tickCount":6}},"text":{"field":"s"}}}
]},
{"title":{"text":"aMED Scores"},"width":217,"height":200,"transform":[{"filter":"datum.p=='D'"}],"layer":[
{"transform":[{"filter":"datum.t=='g'||datum.t=='b'"}],"mark":{"type":"point","filled":true,"opacity":1,"strokeWidth":0},"encoding":{"x":{"field":"x","type":"quantitative","scale":{"domain":[-0.165,0.165],"nice":false,"zero":false},"title":"beta coefficient","axis":{"values":[-0.1,0,0.1],"format":".1f","labelExpr":"replace(datum.label,'−','-')","labelOverlap":false}},"y":{"field":"y","type":"quantitative","scale":{"domain":[-2.45,51.45],"nice":false,"zero":false},"title":"Significance (-log10 p-value)","axis":{"values":[0,10,20,30,40,50],"labelOverlap":false,"tickCount":6}},"color":{"field":"t","type":"nominal","scale":{"domain":["g","b"],"range":["#9e9e9e","#111111"]},"legend":null},"size":{"field":"t","type":"nominal","scale":{"domain":["g","b"],"range":[13,11]},"legend":null}}},
{"transform":[{"filter":"datum.t=='L'"}],"mark":{"type":"rule","strokeDash":[2,2],"color":"#555","strokeWidth":0.6},"encoding":{"x":{"datum":0,"type":"quantitative","scale":{"domain":[-0.165,0.165],"nice":false,"zero":false},"title":"beta coefficient","axis":{"values":[-0.1,0,0.1],"format":".1f","labelExpr":"replace(datum.label,'−','-')","labelOverlap":false}}}},
{"transform":[{"filter":"datum.t=='L'"}],"mark":{"type":"rule","strokeDash":[2,2],"color":"#555","strokeWidth":0.6},"encoding":{"y":{"datum":5,"type":"quantitative","scale":{"domain":[-2.45,51.45],"nice":false,"zero":false},"title":"Significance (-log10 p-value)","axis":{"values":[0,10,20,30,40,50],"labelOverlap":false,"tickCount":6}}}},
{"transform":[{"filter":"datum.t=='k'"}],"mark":{"type":"rule","color":"#333","strokeWidth":0.5},"encoding":{"x":{"field":"x","type":"quantitative","scale":{"domain":[-0.165,0.165],"nice":false,"zero":false},"title":"beta coefficient","axis":{"values":[-0.1,0,0.1],"format":".1f","labelExpr":"replace(datum.label,'−','-')","labelOverlap":false}},"y":{"field":"y","type":"quantitative","scale":{"domain":[-2.45,51.45],"nice":false,"zero":false},"title":"Significance (-log10 p-value)","axis":{"values":[0,10,20,30,40,50],"labelOverlap":false,"tickCount":6}},"x2":{"field":"x2"},"y2":{"field":"y2"}}},
{"transform":[{"filter":"datum.t=='l'"}],"mark":{"type":"text","fontSize":5.8,"color":"#333"},"encoding":{"x":{"field":"x","type":"quantitative","scale":{"domain":[-0.165,0.165],"nice":false,"zero":false},"title":"beta coefficient","axis":{"values":[-0.1,0,0.1],"format":".1f","labelExpr":"replace(datum.label,'−','-')","labelOverlap":false}},"y":{"field":"y","type":"quantitative","scale":{"domain":[-2.45,51.45],"nice":false,"zero":false},"title":"Significance (-log10 p-value)","axis":{"values":[0,10,20,30,40,50],"labelOverlap":false,"tickCount":6}},"text":{"field":"s"}}},
{"transform":[{"filter":"datum.t=='L'"}],"mark":{"type":"text","fontSize":5,"fontWeight":"bold","align":"left","baseline":"top","color":"#222"},"encoding":{"x":{"field":"x","type":"quantitative","scale":{"domain":[-0.165,0.165],"nice":false,"zero":false},"title":"beta coefficient","axis":{"values":[-0.1,0,0.1],"format":".1f","labelExpr":"replace(datum.label,'−','-')","labelOverlap":false}},"y":{"field":"y","type":"quantitative","scale":{"domain":[-2.45,51.45],"nice":false,"zero":false},"title":"Significance (-log10 p-value)","axis":{"values":[0,10,20,30,40,50],"labelOverlap":false,"tickCount":6}},"text":{"field":"s"}}}
]}
]
}
